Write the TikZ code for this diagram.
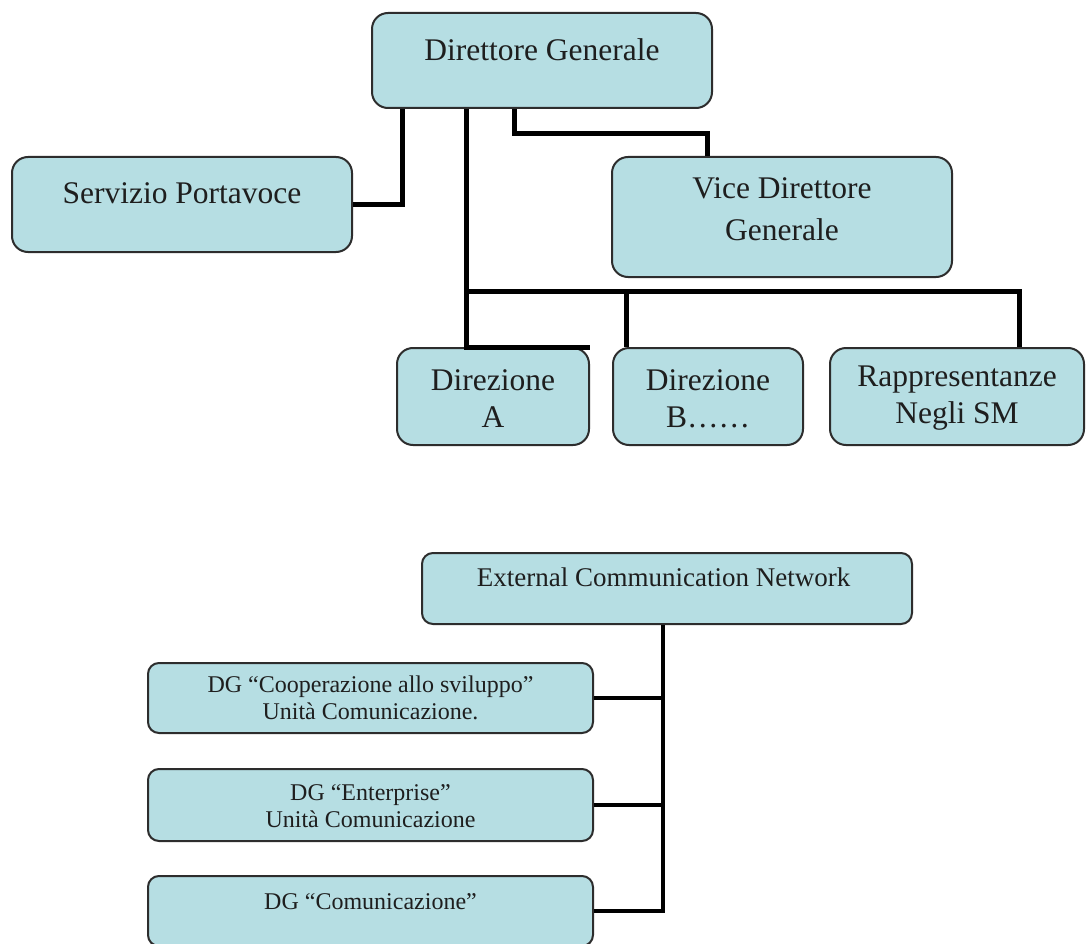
\documentclass[tikz,border=0pt]{standalone}
\usepackage{fontspec}
\setmainfont{Liberation Serif}
\usetikzlibrary{calc}
\definecolor{boxfill}{RGB}{182,222,227}
\definecolor{boxline}{RGB}{45,45,45}
\definecolor{txt}{RGB}{30,30,30}
\begin{document}
\begin{tikzpicture}[x=1pt,y=-1pt,
  box/.style={draw=boxline, fill=boxfill, line width=2pt, rounded corners=16pt, inner sep=0pt},
  sbox/.style={box, rounded corners=11pt},
  conn/.style={draw=black, line width=5pt},
  sconn/.style={draw=black, line width=4.5pt},
  bigtxt/.style={font=\fontsize{31.5}{42}\selectfont, align=center, inner sep=0pt, text=txt},
  midtxt/.style={font=\fontsize{31.5}{37}\selectfont, align=center, inner sep=0pt, text=txt},
  ecntxt/.style={font=\fontsize{27}{32}\selectfont, align=center, inner sep=0pt, text=txt},
  smalltxt/.style={font=\fontsize{24}{27}\selectfont, align=center, inner sep=0pt, text=txt}]
\useasboundingbox[fill=white] (0,0) rectangle (1086,944);

% top chart boxes
\node[box, minimum width=340pt, minimum height=95pt] (dg) at (542,60.5) {};
\node[box, minimum width=340pt, minimum height=95pt] (serv) at (182,204.5) {};
\node[box, minimum width=340pt, minimum height=120pt] (vice) at (782,217) {};
\node[box, minimum width=192pt, minimum height=97pt] (dira) at (493,396.5) {};
\node[box, minimum width=190pt, minimum height=97pt] (dirb) at (708,396.5) {};
\node[box, minimum width=254pt, minimum height=97pt] (rapp) at (957,396.5) {};

\node[bigtxt] (tdg) at (542,50) {Direttore Generale};
\node[bigtxt] (tserv) at (182,193) {Servizio Portavoce};
\node[bigtxt] (tvice) at (782,209) {Vice Direttore\\Generale};
\node[midtxt] (tdira) at (493,398.5) {Direzione\\A};
\node[midtxt] (tdirb) at (708,398.5) {Direzione\\B\ldots\ldots};
\node[midtxt] (trapp) at (957,398.5) {Rappresentanze\\Negli SM};

% top chart connectors
\coordinate (bus) at ($(dg.south west)+(95,182)$);
\draw[conn] ($(dg.south west)+(31,0)$) |- (serv.east);
\draw[conn] ($(dg.south west)+(143,0)$) -- ++(0,25) -| ($(vice.north west)+(96,0)$);
\draw[conn] ($(dg.south west)+(95,0)$) |- (dira.north east);
\draw[conn] (bus) -| ($(rapp.north west)+(190,0)$);
\draw[conn] ($(dirb.north west)+(14,0)$) |- (bus);

% bottom chart boxes
\node[sbox, minimum width=490pt, minimum height=71pt] (ecn) at (667,588.5) {};
\node[sbox, minimum width=445pt, minimum height=70pt] (c1) at (370.5,698) {};
\node[sbox, minimum width=445pt, minimum height=72pt] (c2) at (370.5,805) {};
\node[sbox, minimum width=445pt, minimum height=70pt] (c3) at (370.5,911) {};

\node[ecntxt] (tecn) at (663.5,577) {External Communication Network};
\node[smalltxt] (tc1) at (370.5,698) {DG “Cooperazione allo sviluppo”\\Unità Comunicazione.};
\node[smalltxt] (tc2) at (370.5,806) {DG “Enterprise”\\Unità Comunicazione};
\node[smalltxt] (tc3) at (370.5,902) {DG “Comunicazione”};

% bottom chart connectors
\coordinate (etrunk) at ($(ecn.south)+(-4,0)$);
\draw[sconn] (etrunk) |- (c3.east);
\draw[sconn] (etrunk |- c1.east) -- (c1.east);
\draw[sconn] (etrunk |- c2.east) -- (c2.east);
\end{tikzpicture}
\end{document}
